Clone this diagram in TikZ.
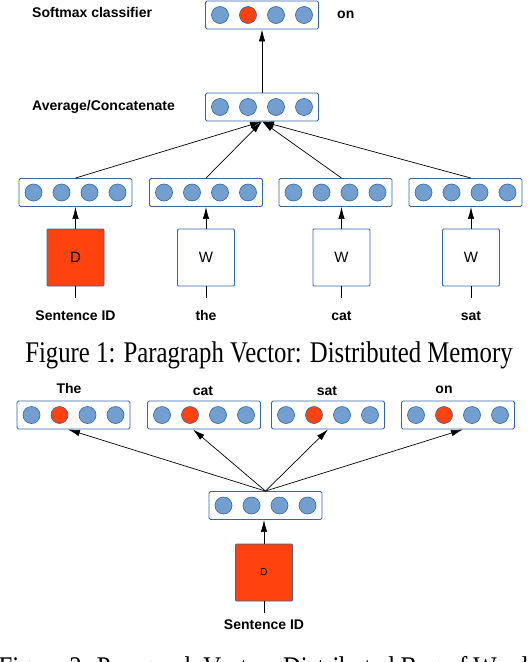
\documentclass[tikz,border=0pt]{standalone}
\usepackage{fontspec}
\setmainfont{Liberation Serif}
\setsansfont{Liberation Sans}
\usetikzlibrary{arrows.meta,positioning}
\definecolor{pvUnit}{HTML}{729FCF}
\definecolor{pvEdge}{HTML}{3465A4}
\definecolor{pvRed}{HTML}{FF420E}
\tikzset{
  pv box/.style={draw=pvEdge, line width=0.9pt, rounded corners=1.5pt, minimum width=113pt, minimum height=28pt, inner sep=0pt},
  pv unit/.style={circle, draw=pvEdge, line width=0.6pt, fill=pvUnit, minimum size=17pt, inner sep=0pt},
  pv matrix/.style={draw=pvEdge, line width=0.9pt, rounded corners=1pt, minimum size=57pt, inner sep=0pt, font=\sffamily\fontsize{15}{17}\selectfont},
  pv label/.style={font=\sffamily\bfseries\fontsize{14}{16}\selectfont, inner sep=1pt, text height=10.5pt, text depth=3pt},
  pv arrow/.style={draw, line width=0.7pt, -{Latex[length=12pt,width=6.5pt]}},
  pv stem/.style={draw, line width=0.8pt},
  pv caption/.style={font=\fontsize{30}{34}\selectfont, inner sep=0pt},
}
% one word vector: name, centre, index of the red unit (0 = none)
\newcommand{\pvvector}[3]{%
  \node[pv box] (#1) at (#2) {};
  \foreach \k in {1,...,4}{%
    \ifnum\k=#3\relax\def\pvfill{pvRed}\else\def\pvfill{pvUnit}\fi
    \node[pv unit, fill=\pvfill] (#1-\k) at ([xshift={(\k-2.5)*28pt}]#1.center) {};
  }%
}

\begin{document}
\begin{tikzpicture}[x=1pt,y=-1pt]
  \useasboundingbox (0,0) rectangle (528,662);
  \clip (0,0) rectangle (528,662);

  % Figure 1: distributed memory
  \pvvector{out}{262,15}{2}
  \pvvector{avg}{262,107}{0}
  \node[pv label, anchor=base west] (softmax) at (31,17) {Softmax classifier};
  \node[pv label, anchor=base west] (target) at (336,18) {on};
  \node[pv label, anchor=base west] (combine) at (31,110) {Average/Concatenate};
  \draw[pv arrow] (avg.north) -- (out.south);

  \pvvector{ctx1}{75.5,192.5}{0}
  \pvvector{ctx2}{206,192.5}{0}
  \pvvector{ctx3}{335.5,192.5}{0}
  \pvvector{ctx4}{465.5,192.5}{0}
  \node[pv matrix, fill=pvRed] (para) at (75.5,257.5) {D};
  \node[pv matrix] (word1) at (206,257.5) {W};
  \node[pv matrix] (word2) at (341.5,257.5) {W};
  \node[pv matrix] (word3) at (471,257.5) {W};

  \coordinate (para-in) at (75.5,298);
  \coordinate (word1-in) at (206,298);
  \coordinate (word2-in) at (341.5,298);
  \coordinate (word3-in) at (471,298);
  \node[pv label, below=10.5pt of para-in] (sentence) {Sentence ID};
  \node[pv label, below=10.5pt of word1-in] (the) {the};
  \node[pv label, below=10.5pt of word2-in] (cat) {cat};
  \node[pv label, below=10.5pt of word3-in] (sat) {sat};

  \foreach \m/\v in {para/ctx1, word1/ctx2, word2/ctx3, word3/ctx4}{
    \draw[pv stem] (\m.south) -- (\m-in);
    \draw[pv arrow] (\m.north) -- (\m.north |- \v.south);
    \draw[pv arrow] (\m.north |- \v.north) -- (avg.south);
  }

  \node[pv caption, anchor=base] (cap1) at (269,362)
    {\scalebox{0.825}[1]{Figure 1: Paragraph Vector: Distributed Memory}};

  % Figure 2: distributed bag of words
  \pvvector{pred1}{73.5,415}{2}
  \pvvector{pred2}{204,415}{2}
  \pvvector{pred3}{328,415}{2}
  \pvvector{pred4}{458,415}{2}
  \node[pv label, anchor=base] (w-the) at (69,393) {The};
  \node[pv label, anchor=base] (w-cat) at (203,395) {cat};
  \node[pv label, anchor=base] (w-sat) at (327,395) {sat};
  \node[pv label, anchor=base] (w-on) at (444,393) {on};

  \pvvector{doc}{265.5,505.5}{0}
  \node[pv matrix, fill=pvRed, font=\sffamily\fontsize{10}{12}\selectfont] (para2) at (264,572.5) {D};
  \coordinate (para2-in) at (264,613);
  \node[pv label, below=4.5pt of para2-in] (sentence2) {Sentence ID};
  \draw[pv stem] (para2.south) -- (para2-in);
  \draw[pv arrow] (para2.north) -- (para2.north |- doc.south);

  \draw[pv arrow] (doc.north) -- ([xshift=-5.5pt]pred1.south);
  \draw[pv arrow] (doc.north) -- ([xshift=-11pt]pred2.south);
  \draw[pv arrow] (doc.north) -- (pred3.south);
  \draw[pv arrow] (doc.north) -- ([xshift=5pt]pred4.south);

  \node[pv caption, anchor=base] (cap2) at (268,677)
    {\scalebox{0.825}[1]{Figure 2: Paragraph Vector: Distributed Bag of Words}};
\end{tikzpicture}
\end{document}
